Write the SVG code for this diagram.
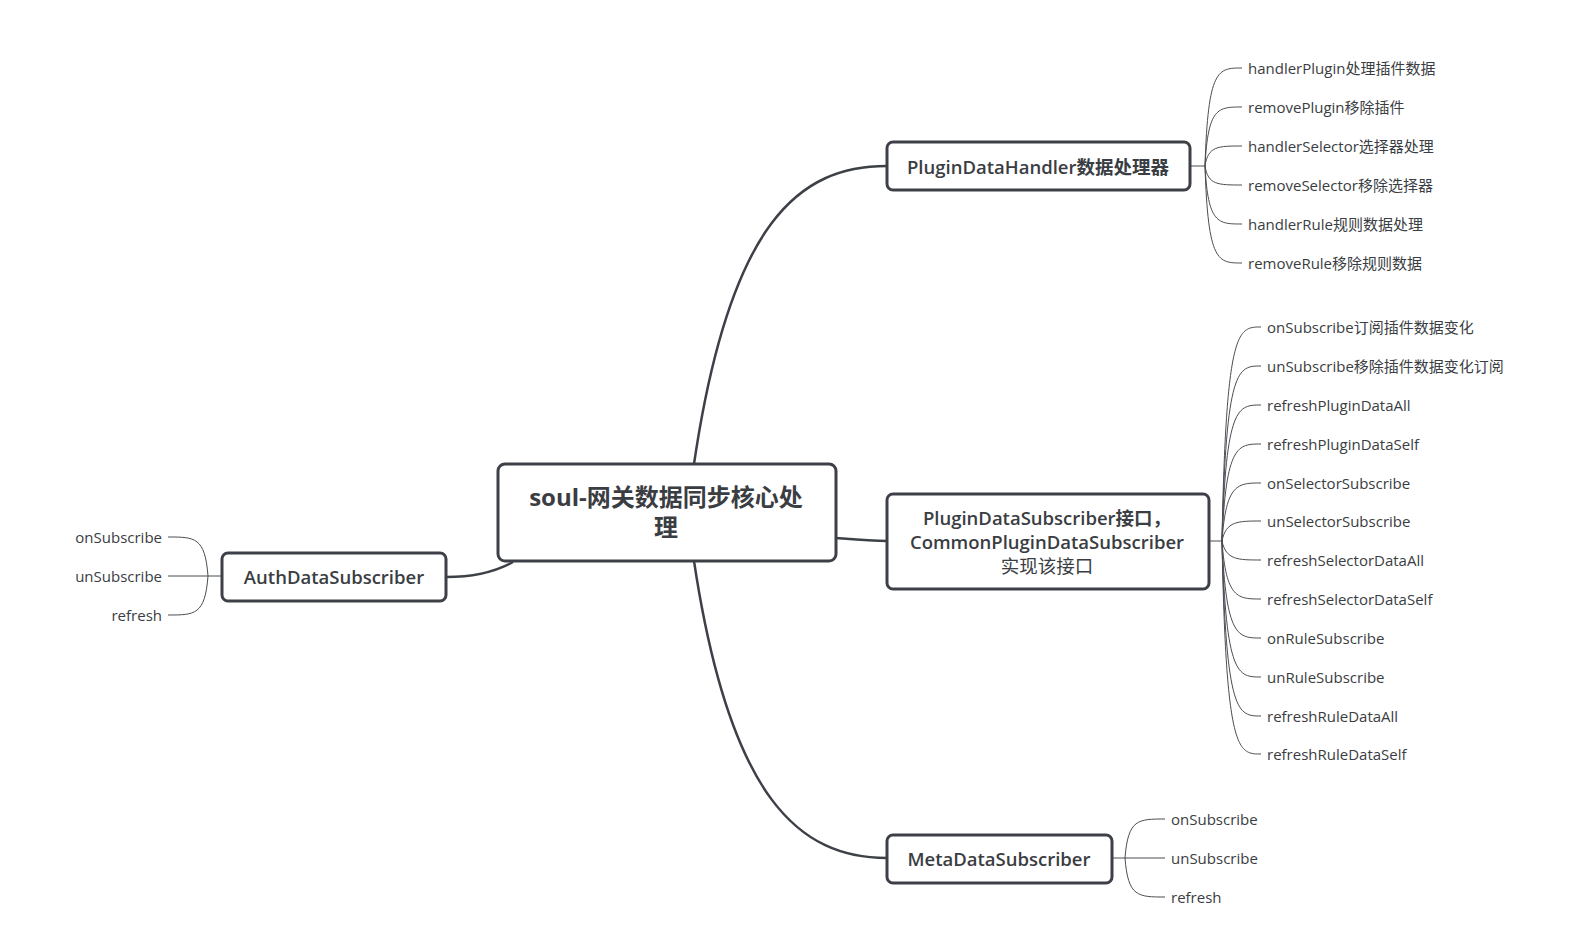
<svg xmlns="http://www.w3.org/2000/svg" width="1574" height="945" viewBox="0 0 1574 945">
<style>
.node rect{fill:#ffffff;stroke:#3d4147;stroke-width:3}
.title{font-family:"Open Sans","Noto Sans CJK SC",sans-serif;font-weight:600;fill:#3a3d42;text-anchor:middle;dominant-baseline:central}
.center{font-size:24px;font-weight:700}
.t18{font-size:18.5px}
.light{font-weight:400}
.leaf{font-family:"Open Sans","Noto Sans CJK SC",sans-serif;font-size:15px;fill:#3a3d42;dominant-baseline:central}
.main{fill:none;stroke:#3d4147;stroke-width:2.5}
.thin{fill:none;stroke:#4a4d52;stroke-width:1}
</style>
<rect width="1574" height="945" fill="#ffffff"/>
<g id="connectors">
<path class="main" d="M694 464 C730 220 800 166 887 166"/>
<path class="main" d="M836 538 C860 540 870 541 887 541"/>
<path class="main" d="M694 561 C730 800 800 858 887 858"/>
<path class="main" d="M513 562 C495 572 470 577 446 577"/>
<path class="thin" d="M1190 166 L1205 166"/>
<path class="thin" d="M1205 166 C1208 68 1218 68 1242 68"/>
<path class="thin" d="M1205 166 C1208 107 1218 107 1242 107"/>
<path class="thin" d="M1205 166 C1208 146 1218 146 1242 146"/>
<path class="thin" d="M1205 166 C1208 185 1218 185 1242 185"/>
<path class="thin" d="M1205 166 C1208 224 1218 224 1242 224"/>
<path class="thin" d="M1205 166 C1208 263 1218 263 1242 263"/>
<path class="thin" d="M1209 541 L1222 541"/>
<path class="thin" d="M1222 541 C1226 327 1238 327 1261 327"/>
<path class="thin" d="M1222 541 C1226 366 1238 366 1261 366"/>
<path class="thin" d="M1222 541 C1226 405 1238 405 1261 405"/>
<path class="thin" d="M1222 541 C1226 444 1238 444 1261 444"/>
<path class="thin" d="M1222 541 C1226 483 1238 483 1261 483"/>
<path class="thin" d="M1222 541 C1226 521 1238 521 1261 521"/>
<path class="thin" d="M1222 541 C1226 560 1238 560 1261 560"/>
<path class="thin" d="M1222 541 C1226 599 1238 599 1261 599"/>
<path class="thin" d="M1222 541 C1226 638 1238 638 1261 638"/>
<path class="thin" d="M1222 541 C1226 677 1238 677 1261 677"/>
<path class="thin" d="M1222 541 C1226 716 1238 716 1261 716"/>
<path class="thin" d="M1222 541 C1226 754 1238 754 1261 754"/>
<path class="thin" d="M1112 858 L1125 858"/>
<path class="thin" d="M1125 858 C1128 819 1138 819 1165 819"/>
<path class="thin" d="M1125 858 L1165 858"/>
<path class="thin" d="M1125 858 C1128 897 1138 897 1165 897"/>
<path class="thin" d="M222 576 L208 576"/>
<path class="thin" d="M208 576 C205 537 195 537 168 537"/>
<path class="thin" d="M208 576 L168 576"/>
<path class="thin" d="M208 576 C205 615 195 615 168 615"/>
</g>
<g id="center" class="node">
<rect x="498" y="464" width="338" height="97" rx="7"/>
<text class="title center" x="666" y="496">soul-网关数据同步核心处</text>
<text class="title center" x="666" y="526">理</text>
</g>
<g id="handler" class="node">
<rect x="887" y="142" width="303" height="48" rx="6"/>
<text class="title t18" x="1038" y="166">PluginDataHandler数据处理器</text>
</g>
<g id="subscriber" class="node">
<rect x="887" y="494" width="322" height="95" rx="6"/>
<text class="title t18" x="1047" y="517">PluginDataSubscriber接口，</text>
<text class="title t18" x="1047" y="541">CommonPluginDataSubscriber</text>
<text class="title t18 light" x="1047" y="565">实现该接口</text>
</g>
<g id="meta" class="node">
<rect x="887" y="835" width="225" height="48" rx="6"/>
<text class="title t18" x="999" y="858">MetaDataSubscriber</text>
</g>
<g id="auth" class="node">
<rect x="222" y="553" width="224" height="48" rx="6"/>
<text class="title t18" x="334" y="576">AuthDataSubscriber</text>
</g>
<g id="handler-children">
<text class="leaf" x="1248" y="68">handlerPlugin处理插件数据</text>
<text class="leaf" x="1248" y="107">removePlugin移除插件</text>
<text class="leaf" x="1248" y="146">handlerSelector选择器处理</text>
<text class="leaf" x="1248" y="185">removeSelector移除选择器</text>
<text class="leaf" x="1248" y="224">handlerRule规则数据处理</text>
<text class="leaf" x="1248" y="263">removeRule移除规则数据</text>
</g>
<g id="subscriber-children">
<text class="leaf" x="1267" y="327">onSubscribe订阅插件数据变化</text>
<text class="leaf" x="1267" y="366">unSubscribe移除插件数据变化订阅</text>
<text class="leaf" x="1267" y="405">refreshPluginDataAll</text>
<text class="leaf" x="1267" y="444">refreshPluginDataSelf</text>
<text class="leaf" x="1267" y="483">onSelectorSubscribe</text>
<text class="leaf" x="1267" y="521">unSelectorSubscribe</text>
<text class="leaf" x="1267" y="560">refreshSelectorDataAll</text>
<text class="leaf" x="1267" y="599">refreshSelectorDataSelf</text>
<text class="leaf" x="1267" y="638">onRuleSubscribe</text>
<text class="leaf" x="1267" y="677">unRuleSubscribe</text>
<text class="leaf" x="1267" y="716">refreshRuleDataAll</text>
<text class="leaf" x="1267" y="754">refreshRuleDataSelf</text>
</g>
<g id="meta-children">
<text class="leaf" x="1171" y="819">onSubscribe</text>
<text class="leaf" x="1171" y="858">unSubscribe</text>
<text class="leaf" x="1171" y="897">refresh</text>
</g>
<g id="auth-children">
<text class="leaf" x="162" y="537" text-anchor="end">onSubscribe</text>
<text class="leaf" x="162" y="576" text-anchor="end">unSubscribe</text>
<text class="leaf" x="162" y="615" text-anchor="end">refresh</text>
</g>
</svg>
